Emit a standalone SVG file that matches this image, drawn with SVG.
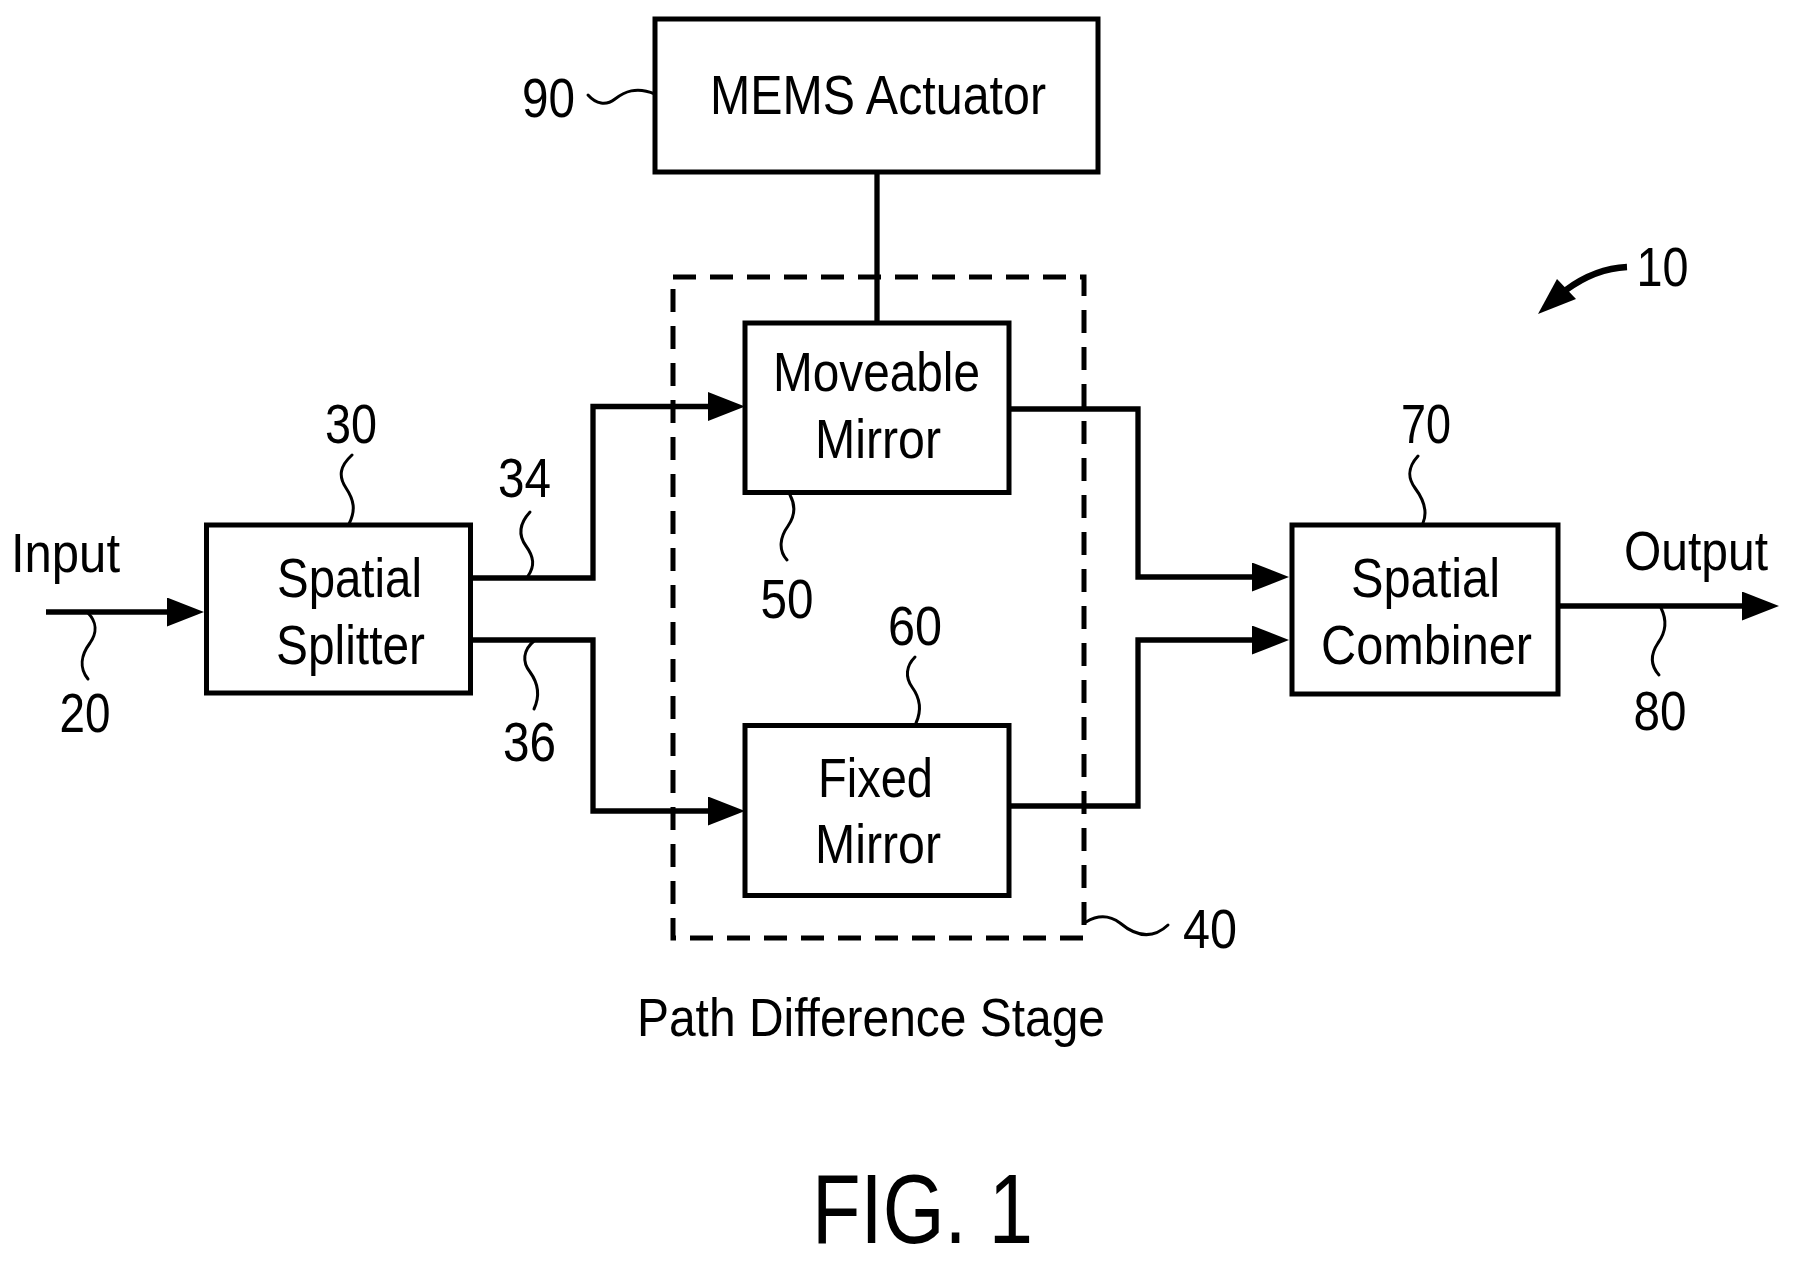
<svg xmlns="http://www.w3.org/2000/svg" width="1795" height="1264" viewBox="0 0 1795 1264">
<style>
  .box{fill:none;stroke:#000;stroke-width:5}
  .dash{fill:none;stroke:#000;stroke-width:5;stroke-dasharray:23 14}
  .wire{fill:none;stroke:#000;stroke-width:5.3}
  .sq{fill:none;stroke:#000;stroke-width:3;stroke-linecap:round}
  text{font-family:"Liberation Sans",Arial,sans-serif;font-size:56px;fill:#000}
</style>
<defs>
  <marker id="arr" markerUnits="userSpaceOnUse" markerWidth="37" markerHeight="29" viewBox="0 0 37 29" refX="27" refY="14.5" orient="auto">
    <path d="M0,0 L37,14.5 L0,29 z" fill="#000"/>
  </marker>
</defs>
<rect width="1795" height="1264" fill="#fff"/>

<g id="stage">
  <rect class="dash" x="673" y="277" width="411" height="661"/>
  <path class="sq" d="M1086,922 C1096,916 1108,914 1120,923 C1132,933 1150,942 1168,925"/>
  <text x="1183" y="948" textLength="54" lengthAdjust="spacingAndGlyphs">40</text>
  <text x="637" y="1036" style="font-size:54px" textLength="468" lengthAdjust="spacingAndGlyphs">Path Difference Stage</text>
</g>

<g id="mems">
  <rect class="box" x="655" y="19" width="443" height="153"/>
  <text x="710" y="114" textLength="336" lengthAdjust="spacingAndGlyphs">MEMS Actuator</text>
  <path class="sq" d="M588,95 C596,104 606,106 615,99 C624,92 636,86 655,94"/>
  <text x="522" y="117" textLength="53" lengthAdjust="spacingAndGlyphs">90</text>
</g>

<g id="moveable">
  <rect class="box" x="745" y="323" width="264" height="169.5"/>
  <text x="773" y="391" textLength="207" lengthAdjust="spacingAndGlyphs">Moveable</text>
  <text x="815" y="457.5" textLength="126" lengthAdjust="spacingAndGlyphs">Mirror</text>
  <path class="sq" d="M790,495 C796,506 795,516 788,526 C780,537 778,550 787,560"/>
  <text x="760.5" y="618" textLength="53" lengthAdjust="spacingAndGlyphs">50</text>
</g>

<g id="fixed">
  <rect class="box" x="745" y="725.5" width="264" height="170"/>
  <text x="818" y="796.5" textLength="115" lengthAdjust="spacingAndGlyphs">Fixed</text>
  <text x="815" y="863" textLength="126" lengthAdjust="spacingAndGlyphs">Mirror</text>
  <path class="sq" d="M915,657 C906,666 905,677 912,687 C920,698 922,710 916,723"/>
  <text x="888" y="645" textLength="54" lengthAdjust="spacingAndGlyphs">60</text>
</g>

<g id="splitter">
  <rect class="box" x="206.5" y="525" width="264" height="168"/>
  <text x="277" y="597" textLength="145" lengthAdjust="spacingAndGlyphs">Spatial</text>
  <text x="276" y="664" textLength="149" lengthAdjust="spacingAndGlyphs">Splitter</text>
  <path class="sq" d="M352,455 C340,466 338,476 346,488 C354,500 356,510 349,524"/>
  <text x="325" y="443" textLength="52" lengthAdjust="spacingAndGlyphs">30</text>
</g>

<g id="combiner">
  <rect class="box" x="1292" y="525" width="266" height="169"/>
  <text x="1351" y="597" textLength="149" lengthAdjust="spacingAndGlyphs">Spatial</text>
  <text x="1321" y="664" textLength="211" lengthAdjust="spacingAndGlyphs">Combiner</text>
  <path class="sq" d="M1418,456 C1408,467 1407,477 1415,488 C1424,500 1428,511 1423,523"/>
  <text x="1401" y="443" textLength="50" lengthAdjust="spacingAndGlyphs">70</text>
</g>

<g id="labels">
  <text x="11" y="572" textLength="109" lengthAdjust="spacingAndGlyphs">Input</text>
  <path class="sq" d="M88,613 C97,622 97,633 90,643 C81,655 79,668 88,679"/>
  <text x="59.5" y="732" textLength="51" lengthAdjust="spacingAndGlyphs">20</text>
  <path class="sq" d="M530,512 C519,524 518,535 526,546 C534,557 535,566 528,576"/>
  <text x="498" y="497" textLength="53" lengthAdjust="spacingAndGlyphs">34</text>
  <path class="sq" d="M534,641 C523,650 522,662 530,672 C538,683 540,696 534,709"/>
  <text x="503" y="761" textLength="53" lengthAdjust="spacingAndGlyphs">36</text>
  <text x="1624" y="570" textLength="144" lengthAdjust="spacingAndGlyphs">Output</text>
  <path class="sq" d="M1661,608 C1667,620 1666,632 1658,643 C1650,655 1650,665 1659,675"/>
  <text x="1633.5" y="730" textLength="53" lengthAdjust="spacingAndGlyphs">80</text>
  <text x="1636.6" y="286" textLength="52" lengthAdjust="spacingAndGlyphs">10</text>
  <path d="M1627,267 C1605,268 1585,276 1566,290" fill="none" stroke="#000" stroke-width="6.5"/>
  <polygon points="1538,314 1557,279 1576,299" fill="#000"/>
  <text x="812" y="1243" style="font-size:98px" textLength="221" lengthAdjust="spacingAndGlyphs">FIG. 1</text>
</g>

<g id="connectors">
  <path class="wire" d="M46,612 H194" marker-end="url(#arr)"/>
  <path class="wire" d="M470,578 H593 V406.5 H735" marker-end="url(#arr)"/>
  <path class="wire" d="M470,640 H593 V811 H735" marker-end="url(#arr)"/>
  <path class="wire" d="M877,172 V323"/>
  <path class="wire" d="M1009,409 H1138 V577 H1279" marker-end="url(#arr)"/>
  <path class="wire" d="M1009,806 H1138 V640 H1279" marker-end="url(#arr)"/>
  <path class="wire" d="M1558,606 H1769" marker-end="url(#arr)"/>
</g>
</svg>
